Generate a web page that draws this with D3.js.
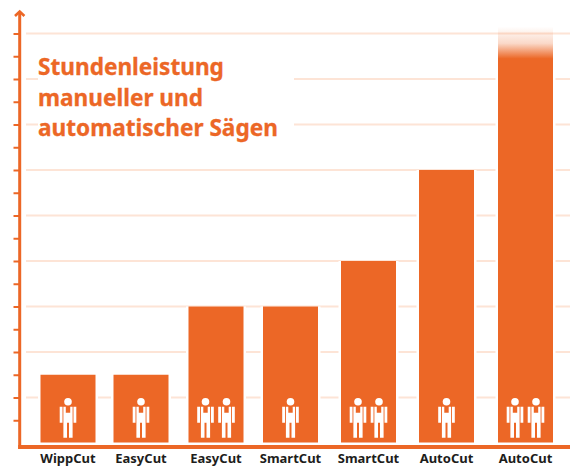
<!DOCTYPE html>
<html>
<head>
<meta charset="utf-8">
<script src="https://cdn.jsdelivr.net/npm/d3@7"></script>
<style>
html, body { margin: 0; padding: 0; background: #fff; }
svg { display: block; }
</style>
</head>
<body>
<script>
var w = 570;
var h = 468;
var orange = "#ec6726";
var pale = "#fde4d6";

var labels = ["WippCut", "EasyCut", "EasyCut", "SmartCut", "SmartCut", "AutoCut", "AutoCut"];
var values = [3, 3, 6, 6, 8, 12, 18.3];
var workers = [1, 1, 2, 1, 2, 1, 2];
var titleLines = ["Stundenleistung", "manueller und", "automatischer Sägen"];

var svg = d3.select("body")
            .append("svg")
            .attr("width", w)
            .attr("height", h);

var defs = svg.append("defs");

// fade at the top of the last bar, the value runs off the chart
var fade = defs.append("linearGradient")
               .attr("id", "fade")
               .attr("x1", 0).attr("x2", 0)
               .attr("y1", 0).attr("y2", 1);
fade.append("stop").attr("offset", 0).attr("stop-color", orange).attr("stop-opacity", 0);
fade.append("stop").attr("offset", 0.04).attr("stop-color", orange).attr("stop-opacity", 0.25);
fade.append("stop").attr("offset", 0.077).attr("stop-color", orange).attr("stop-opacity", 1);
fade.append("stop").attr("offset", 1).attr("stop-color", orange).attr("stop-opacity", 1);

// bars are not evenly spaced in the original
var xScale = d3.scaleOrdinal()
               .domain(d3.range(labels.length))
               .range([68, 141, 216, 290.5, 368.5, 446.5, 525.5]);
var barWidth = 55;

var yScale = d3.scaleLinear()
               .domain([0, 18])
               .range([443, 33.5]);

var tickValues = d3.range(1, 19);
var gridValues = tickValues.filter(function(d) { return d % 2 == 0; });

// grid
svg.append("g")
   .selectAll("line")
   .data(gridValues)
   .enter()
   .append("line")
   .attr("x1", 26)
   .attr("x2", w)
   .attr("y1", function(d) { return yScale(d); })
   .attr("y2", function(d) { return yScale(d); })
   .attr("stroke", pale)
   .attr("stroke-width", 2);

// white box behind the title cuts the grid
svg.append("rect")
   .attr("x", 38)
   .attr("y", 48)
   .attr("width", 256)
   .attr("height", 92)
   .attr("fill", "#fff");

// y axis
var yAxis = d3.axisLeft()
              .scale(yScale)
              .tickValues(tickValues)
              .tickSize(6)
              .tickFormat("");

var yGroup = svg.append("g")
                .attr("transform", "translate(19.5,0)")
                .call(yAxis);
yGroup.select(".domain").remove();
yGroup.selectAll("line").attr("stroke", orange).attr("stroke-width", 2);

// white gap left and right of each bar, stops below the top line on the last one
svg.append("g")
   .selectAll("rect")
   .data(values)
   .enter()
   .append("rect")
   .attr("x", function(d, i) { return xScale(i) - barWidth / 2 - 2.5; })
   .attr("y", function(d) { return yScale(Math.min(d, 17)); })
   .attr("width", barWidth + 5)
   .attr("height", function(d) { return yScale(0) - yScale(Math.min(d, 17)); })
   .attr("fill", "#fff");

// bars
svg.append("g")
   .selectAll("rect")
   .data(values)
   .enter()
   .append("rect")
   .attr("x", function(d, i) { return xScale(i) - barWidth / 2; })
   .attr("y", function(d) { return yScale(d); })
   .attr("width", barWidth)
   .attr("height", function(d) { return yScale(0) - yScale(d) - 0.5; })
   .attr("fill", function(d, i) { return i == values.length - 1 ? "url(#fade)" : orange; });

// axis lines and arrow
svg.append("line")
   .attr("x1", 19.7).attr("x2", 19.7)
   .attr("y1", 12).attr("y2", 449)
   .attr("stroke", orange)
   .attr("stroke-width", 3);

svg.append("line")
   .attr("x1", 18.2).attr("x2", w)
   .attr("y1", 447).attr("y2", 447)
   .attr("stroke", orange)
   .attr("stroke-width", 4);

svg.append("path")
   .attr("d", "M15,16 L19.7,11.5 L24.4,16")
   .attr("fill", "none")
   .attr("stroke", orange)
   .attr("stroke-width", 2.6);

// worker icon, origin at the feet
function drawWorker(g, cx) {
    var p = g.append("g")
             .attr("transform", "translate(" + cx + "," + 437.7 + ")")
             .attr("fill", "#fff");
    p.append("circle").attr("cx", 0).attr("cy", -36).attr("r", 3.8);
    p.append("path")
     .attr("d", "M-8.3,-31 h2.8 v16 h-2.8 z M5.5,-31 h2.8 v16 h-2.8 z " +
                "M-4.6,-31 h2.4 v6 h4.4 v-6 h2.4 v31 h-3.6 v-15 h-2 v15 h-3.6 z");
}

var people = svg.append("g");
workers.forEach(function(n, i) {
    if (n == 1) {
        drawWorker(people, xScale(i));
    } else {
        drawWorker(people, xScale(i) - 10.5);
        drawWorker(people, xScale(i) + 10.5);
    }
});

// category labels
svg.append("g")
   .selectAll("text")
   .data(labels)
   .enter()
   .append("text")
   .attr("x", function(d, i) { return xScale(i); })
   .attr("y", 463)
   .attr("text-anchor", "middle")
   .attr("font-family", "'Noto Sans', sans-serif")
   .attr("font-weight", 700)
   .attr("font-size", 13)
   .attr("fill", "#1d1d1b")
   .text(function(d) { return d; });

// title
svg.append("g")
   .selectAll("text")
   .data(titleLines)
   .enter()
   .append("text")
   .attr("x", 38)
   .attr("y", function(d, i) { return 75 + i * 30.5; })
   .attr("font-family", "'Noto Sans', sans-serif")
   .attr("font-weight", 700)
   .attr("font-size", 22.6)
   .attr("fill", orange)
   .attr("stroke", orange)
   .attr("stroke-width", 0.3)
   .text(function(d) { return d; });
</script>
</body>
</html>
